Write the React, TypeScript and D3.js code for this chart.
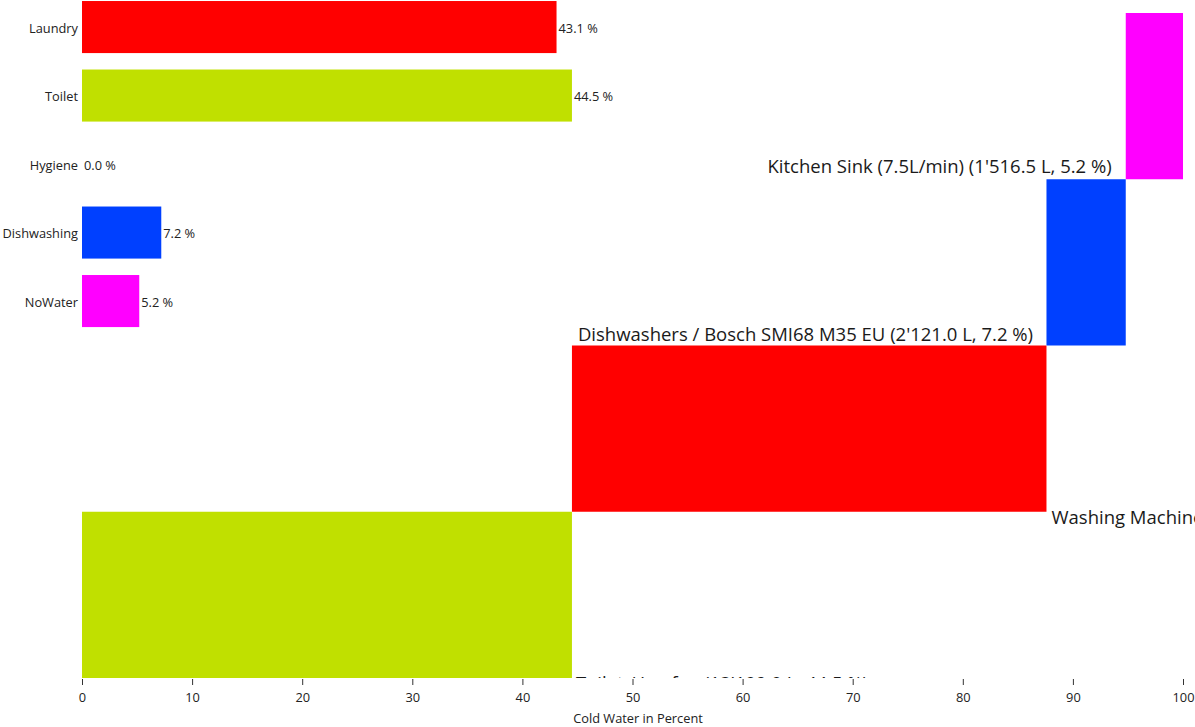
import React, { useEffect, useRef } from "react";
import * as d3 from "d3";

const categories = ["Laundry", "Toilet", "Hygiene", "Dishwashing", "NoWater"];
const percents = [43.1, 44.5, 0.0, 7.2, 5.2];
const colors = ["#FF0000", "#C0E000", "#888888", "#0040FF", "#FF00FF"];

// cascade order (bottom to top)
const cascadeOrder = ["Toilet", "Laundry", "Dishwashing", "NoWater"];
const cascadeLabels = [
  "Toilet / Laufen (13'109.0 L, 44.5 %)",
  "Washing Machine / Miele W1 (12'697.0 L, 43.1 %)",
  "Dishwashers / Bosch SMI68 M35 EU (2'121.0 L, 7.2 %)",
  "Kitchen Sink (7.5L/min) (1'516.5 L, 5.2 %)",
];
const xTicks = [0, 10, 20, 30, 40, 50, 60, 70, 80, 90, 100];
const axisTitle = "Cold Water in Percent";

const W = 1195;
const H = 727;
const FONT = "'Open Sans', 'Noto Sans', sans-serif";
const SMALL = 12.8;
const BIG = 18.5;

export default function App() {
  const ref = useRef<SVGSVGElement>(null);
  useEffect(() => {
    const svg = d3.select(ref.current);
    svg.selectAll("*").remove();
    const x = d3.scaleLinear().domain([0, 100]).range([82, 1183]);

    // left bar chart
    const y = d3
      .scaleBand<string>()
      .domain(categories)
      .range([-7.2, 335.3])
      .paddingInner(0.24)
      .paddingOuter(0.12);

    const g1 = svg.append("g");
    categories.forEach((c, i) => {
      const v = percents[i];
      const yy = y(c)!;
      if (v > 0) {
        g1.append("rect")
          .attr("x", x(0))
          .attr("y", yy)
          .attr("width", x(v) - x(0))
          .attr("height", y.bandwidth())
          .attr("fill", colors[i]);
      }
      g1.append("text")
        .attr("x", x(0) - 4)
        .attr("y", yy + y.bandwidth() / 2 + 1)
        .attr("dy", "0.35em")
        .attr("text-anchor", "end")
        .attr("font-size", SMALL)
        .attr("font-family", FONT)
        .attr("fill", "#222")
        .text(c);
      g1.append("text")
        .attr("x", x(v) + 2)
        .attr("y", yy + y.bandwidth() / 2 + 1)
        .attr("dy", "0.35em")
        .attr("font-size", SMALL)
        .attr("font-family", FONT)
        .attr("fill", "#222")
        .text(`${v.toFixed(1)} %`);
    });

    // cascade
    const defs = svg.append("defs");
    defs
      .append("clipPath")
      .attr("id", "plotclip")
      .append("rect")
      .attr("x", 0)
      .attr("y", 0)
      .attr("width", W)
      .attr("height", 678);

    const yc = d3.scaleBand<string>().domain(cascadeOrder).range([678, 13]);
    const g2 = svg.append("g").attr("clip-path", "url(#plotclip)");
    let cum = 0;
    const starts: number[] = [];
    cascadeOrder.forEach((c) => {
      const i = categories.indexOf(c);
      const v = percents[i];
      starts.push(cum);
      g2.append("rect")
        .attr("x", x(cum))
        .attr("y", yc(c)!)
        .attr("width", x(cum + v) - x(cum))
        .attr("height", yc.bandwidth())
        .attr("fill", colors[i]);
      cum += v;
    });

    const lab = (t: string, xx: number, yy: number, anchor: string) =>
      g2
        .append("text")
        .attr("x", xx)
        .attr("y", yy)
        .attr("text-anchor", anchor)
        .attr("font-size", BIG)
        .attr("font-family", FONT)
        .attr("fill", "#1a1a1a")
        .text(t);

    const pv = (c: string) => percents[categories.indexOf(c)];
    lab(cascadeLabels[0], x(starts[0] + pv("Toilet")) + 4, yc("Toilet")! + yc.bandwidth() + 12, "start");
    lab(cascadeLabels[1], x(starts[1] + pv("Laundry")) + 5, yc("Laundry")! + yc.bandwidth() + 12, "start");
    lab(cascadeLabels[2], x(starts[1]) + 6, yc("Laundry")! - 5, "start");
    lab(cascadeLabels[3], x(starts[3]) - 14, yc("Dishwashing")! - 6, "end");

    // axis
    const ax = svg
      .append("g")
      .attr("transform", "translate(0,679)")
      .call(d3.axisBottom(x).tickValues(xTicks).tickSize(6).tickPadding(8).tickFormat(d3.format("d")));
    ax.select(".domain").remove();
    ax.selectAll(".tick line").attr("stroke", "#333");
    ax.selectAll(".tick text")
      .attr("font-size", SMALL)
      .attr("font-family", FONT)
      .attr("fill", "#222");

    svg
      .append("text")
      .attr("x", 638)
      .attr("y", 723)
      .attr("text-anchor", "middle")
      .attr("font-size", SMALL)
      .attr("font-family", FONT)
      .attr("fill", "#222")
      .text(axisTitle);
  }, []);
  return (
    <svg
      ref={ref}
      width={W}
      height={H}
      style={{ position: "absolute", left: 0, top: 0, display: "block", background: "#fff" }}
    />
  );
}
